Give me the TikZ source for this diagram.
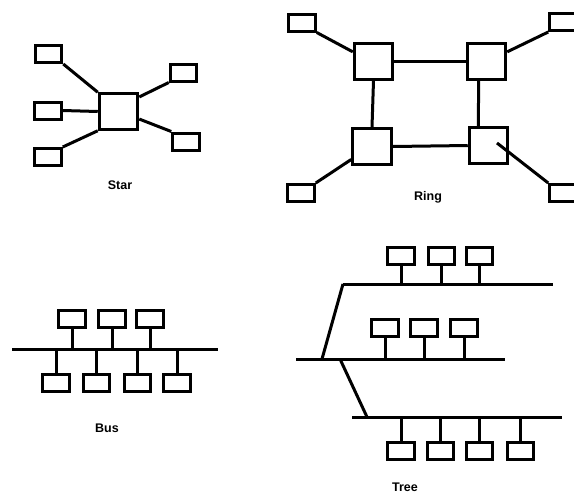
\documentclass[tikz,border=0pt]{standalone}
\usepackage{fontspec}
\setmainfont{Liberation Sans}
\usepackage{tikz}
\usetikzlibrary{positioning}

\begin{document}
\begin{tikzpicture}[x=1pt,y=-1pt,line width=3pt,
  term/.style={draw,rectangle,inner sep=0pt,minimum width=26.5pt,minimum height=17pt},
  hub/.style={draw,rectangle,inner sep=0pt,minimum width=38.5pt,minimum height=35.5pt},
  caption/.style={font=\fontsize{12.5}{14}\selectfont\bfseries}]
\useasboundingbox (0,0) rectangle (574,496);
\clip (0,0) rectangle (574,496);

\node[hub] (shub) at (118.5,111.5) {};
\node[term] (s1) at (48.5,54) {};
\node[term] (s2) at (48,110.5) {};
\node[term] (s3) at (48,157) {};
\node[term] (s4) at (183.5,72.5) {};
\node[term] (s5) at (186,141.5) {};
\draw (s1.south east)--(shub.north west);
\draw (s2.east)--(shub.west);
\draw (s3.north east)--(shub.south west);
\draw (shub.35)--(s4.south west);
\draw (shub.-20)--(s5.north west);
\node[caption] (starlbl) at (120,185) {Star};

\node[hub] (rtl) at (373.5,61.5) {};
\node[hub] (rtr) at (486.5,61.5) {};
\node[hub] (rbl) at (372,146.5) {};
\node[hub] (rbr) at (488.5,145.5) {};
\node[term] (r1) at (302,22.5) {};
\node[term] (r2) at (563,22) {};
\node[term] (r3) at (301,193) {};
\node[term] (r4) at (563,193) {};
\draw (rtl.east)--(rtr.west);
\draw (rbl.east)--(rbr.west);
\draw (rtl.south)--(rbl.north);
\draw (rtr.248)--(rbr.118);
\draw (r1.south east)--(rtl.155);
\draw (rtr.25)--(r2.south west);
\draw (r3.north east)--(rbl.212);
\draw ([xshift=8.5pt,yshift=2.5pt]rbr.center)--(r4.north west);
\node[caption] (ringlbl) at (428,197) {Ring};

\coordinate (busl) at (12,349);
\coordinate (busr) at (218,349);
\draw (busl)--(busr);
\foreach \n/\x in {1/72,2/112,3/150}{
  \node[term] (bt\n) at (\x,319) {};
  \draw (bt\n.south)--(bt\n |- busl);
}
\foreach \n/\x in {1/56,2/96.5,3/137.5,4/177}{
  \node[term] (bb\n) at (\x,382.5) {};
  \draw (bb\n.north)--(bb\n |- busl);
}
\node[caption] (buslbl) at (107,428) {Bus};

\coordinate (ta) at (343,284);
\coordinate (tb) at (553,284);
\coordinate (ma) at (296,359);
\coordinate (mb) at (505,359);
\coordinate (ua) at (352,417);
\coordinate (ub) at (562,417);
\coordinate (mj1) at (322,359);
\coordinate (mj2) at (340,359);
\coordinate (uj) at (367,417);
\draw (ta)--(tb);
\draw (ma)--(mb);
\draw (ua)--(ub);
\draw (ta)--(mj1);
\draw (mj2)--(uj);
\foreach \n/\x in {1/401,2/441.5,3/479.5}{
  \node[term] (tt\n) at (\x,255.5) {};
  \draw (tt\n.south)--(tt\n |- ta);
}
\foreach \n/\x in {1/385,2/424,3/464}{
  \node[term] (tm\n) at (\x,328) {};
  \draw (tm\n.south)--(tm\n |- ma);
}
\foreach \n/\x in {1/401,2/440.5,3/479.5,4/520.5}{
  \node[term] (tu\n) at (\x,450.5) {};
  \draw (tu\n.north)--(tu\n |- ua);
}
\node[caption] (treelbl) at (405,487) {Tree};

\end{tikzpicture}
\end{document}
